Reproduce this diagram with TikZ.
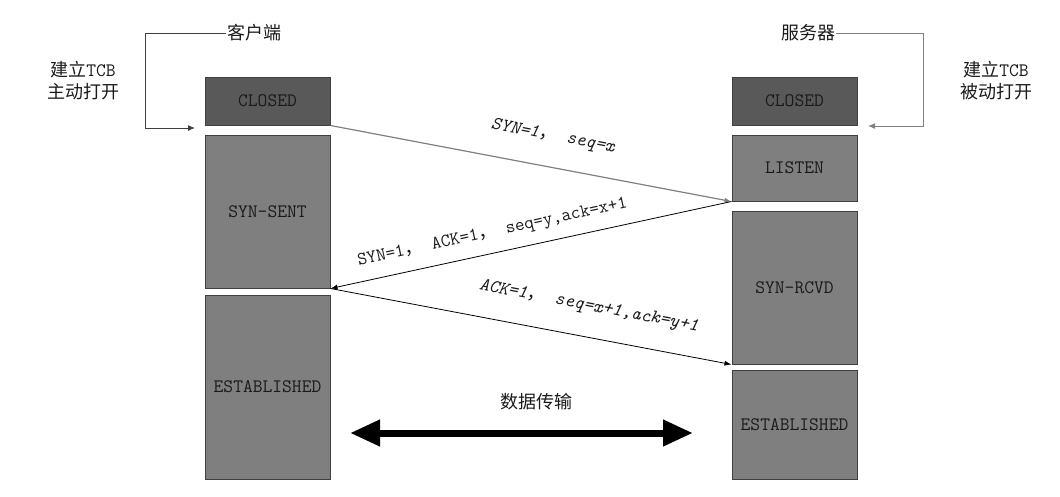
\documentclass[tikz,border=0pt]{standalone}
\usepackage{fontspec}
\newfontfamily\cjk{Noto Sans CJK SC}
\usetikzlibrary{arrows.meta}
\definecolor{boxdark}{HTML}{595959}
\definecolor{boxmid}{HTML}{7F7F7F}
\definecolor{boxline}{HTML}{404040}
\definecolor{txt}{HTML}{1A1A1A}
\definecolor{lightline}{HTML}{808080}
\begin{document}
\begin{tikzpicture}[x=1pt,y=-1pt,
 state/.style={draw=boxline, line width=1pt, fill=boxmid, minimum width=125pt, inner sep=0pt, text=txt, font=\ttfamily\fontsize{19}{20}\selectfont},
 darkstate/.style={state, fill=boxdark},
 title/.style={text=txt, inner sep=1pt, font=\cjk\fontsize{18}{20}\selectfont},
 note/.style={text=txt, align=center, inner sep=0pt, font=\ttfamily\fontsize{19}{22}\selectfont},
 msg/.style={-{Latex[length=7pt,width=5pt]}, line width=0.8pt},
 lbl/.style={sloped, inner sep=0pt, text=txt, font=\ttfamily\fontsize{18.5}{20}\selectfont},
 lbli/.style={lbl, font=\ttfamily\fontsize{18.5}{20}\selectfont\itshape},
 bracket/.style={line width=1pt, -{Latex[length=7pt,width=6pt]}},
]
\useasboundingbox (0,0) rectangle (1060,496);

% states
\node[darkstate, minimum height=48pt] (lclosed) at (267.5,101) {CLOSED};
\node[state, minimum height=153pt] (synsent) at (267.5,211.5) {SYN-SENT};
\node[state, minimum height=184pt] (lest) at (267.5,387) {ESTABLISHED};
\node[darkstate, minimum height=48pt] (rclosed) at (794.5,101) {CLOSED};
\node[state, minimum height=66pt] (listen) at (794.5,168) {LISTEN};
\node[state, minimum height=153pt] (synrcvd) at (794.5,287.5) {SYN-RCVD};
\node[state, minimum height=109pt] (rest) at (794.5,424.5) {ESTABLISHED};

% titles and notes
\node[title] (client) at (254,33) {客户端};
\node[title] (server) at (808,33) {服务器};
\node[note] (cnote) at (83,81) {{\cjk\fontsize{18}{22}\selectfont 建立}TCB\\{\cjk\fontsize{18}{22}\selectfont 主动打开}};
\node[note] (snote) at (996,81) {{\cjk\fontsize{18}{22}\selectfont 建立}TCB\\{\cjk\fontsize{18}{22}\selectfont 被动打开}};

% brackets
\coordinate (cb1) at (145,33);
\coordinate (cb2) at (145,128);
\coordinate (cin) at (195,128);
\draw[bracket, draw=boxline] (client.west) -- (cb1) -- (cb2) -- (cin);
\coordinate (sb1) at (923,33);
\coordinate (sb2) at (923,126);
\coordinate (sin) at (868,126);
\draw[bracket, draw=lightline] (server.east) -- (sb1) -- (sb2) -- (sin);

% messages
\draw[msg, draw=lightline, line width=1.2pt] (lclosed.south east) -- node[lbli, above=22pt, pos=0.54] {SYN=1{\cjk ，} seq=x} (listen.south west);
\draw[msg] (listen.south west) -- node[lbl, above=12pt, pos=0.585] {SYN=1{\cjk ，} ACK=1{\cjk ，} seq=y,ack=x+1} (synsent.south east);
\draw[msg] (synsent.south east) -- node[lbli, above=22pt, pos=0.63] {ACK=1{\cjk ，} seq=x+1,ack=y+1} (synrcvd.south west);

% data transfer
\coordinate (dl) at (350,433);
\coordinate (dr) at (693,433);
\draw[line width=7pt, {Triangle[length=30pt,width=25pt]}-{Triangle[length=30pt,width=25pt]}] (dl) -- (dr);
\node[title] (data) at (536,402) {数据传输};
\end{tikzpicture}
\end{document}
